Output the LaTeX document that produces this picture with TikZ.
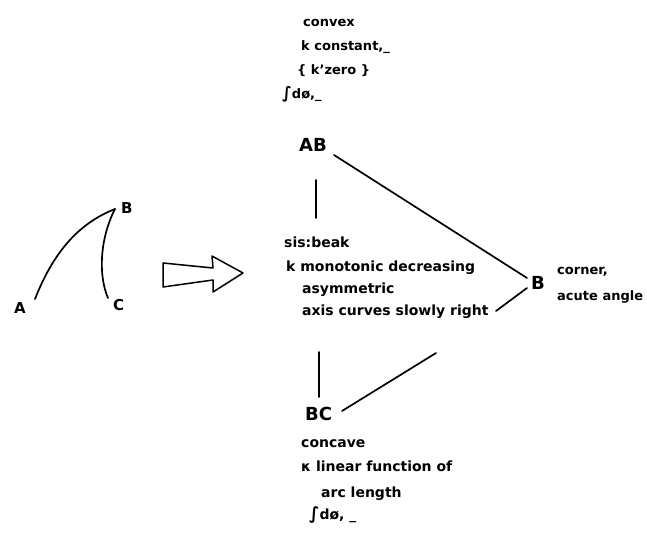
\documentclass[tikz,border=0pt]{standalone}
\usepackage{fontspec}
\setmainfont{DejaVu Sans}
\begin{document}
\begin{tikzpicture}[x=1pt,y=-1pt,
  lbl/.style={anchor=base west,inner sep=0pt,font=\bfseries\fontsize{14}{16}\selectfont},
  sml/.style={anchor=base west,inner sep=0pt,font=\bfseries\fontsize{13}{16}\selectfont},
  big/.style={anchor=base west,inner sep=0pt,font=\bfseries\fontsize{18}{22}\selectfont},
  pt/.style={anchor=base west,inner sep=0pt,font=\bfseries\fontsize{15}{19}\selectfont},
  ln/.style={line width=1.7pt,line cap=round}]
\useasboundingbox (0,0) rectangle (647,534);

% left: the curve A-B-C
\node[pt] (A) at (14,313) {A};
\node[pt] (Bl) at (121,214) {B};
\node[pt] (C) at (113,310) {C};
\coordinate (a0) at (35,299);
\coordinate (b0) at (115,209);
\coordinate (c0) at (108,298);
\draw[ln] (a0) .. controls (55,248) and (82,222) .. (b0);
\draw[ln] (b0) .. controls (100,238) and (98,275) .. (c0);

% hollow arrow
\draw[line width=1.5pt,line join=round]
  (163,263) -- (213,268) -- (212,256) -- (243,273) -- (213,292) -- (213,280) -- (163,287) -- cycle;

% AB and its properties
\node[sml] (t1) at (303,27) {convex};
\node[sml] (t2) at (301,51) {k constant,\_};
\node[sml] (t3) at (297,75) {\{ k'zero \}};
\node[sml] (t4) at (282,99) {{\fontsize{16}{18}\selectfont ∫}dø,\_};
\node[big] (AB) at (299,152) {AB};

% vertex B
\node[big] (Br) at (531,290) {B};
\node[sml] (c1) at (557,275) {corner,};
\node[sml] (c2) at (557,300) {acute angle};

% the beak
\node[lbl] (s1) at (284,248) {sis:beak};
\node[lbl] (s2) at (286,272) {k monotonic decreasing};
\node[lbl] (s3) at (302,294) {asymmetric};
\node[lbl] (s4) at (302,315) {axis curves slowly right};

% BC and its properties
\node[big] (BC) at (305,420) {BC};
\node[lbl] (u1) at (301,447) {concave};
\node[lbl] (u2) at (301,471) {κ linear function of};
\node[lbl] (u3) at (321,497) {arc length};
\node[lbl] (u4) at (309,519) {{\fontsize{17}{18}\selectfont ∫}dø, \_};

% connectors
\coordinate (p1) at (334,155);
\coordinate (p2) at (527,278);
\coordinate (p3) at (496,311);
\coordinate (p4) at (527,288);
\coordinate (p5) at (342,411);
\coordinate (p6) at (436,353);
\coordinate (v1) at (316,180);
\coordinate (v2) at (316,218);
\coordinate (v3) at (319,352);
\coordinate (v4) at (319,397);
\draw[ln] (p1) -- (p2);
\draw[ln] (p3) -- (p4);
\draw[ln] (p5) -- (p6);
\draw[ln] (v1) -- (v2);
\draw[ln] (v3) -- (v4);
\end{tikzpicture}
\end{document}
